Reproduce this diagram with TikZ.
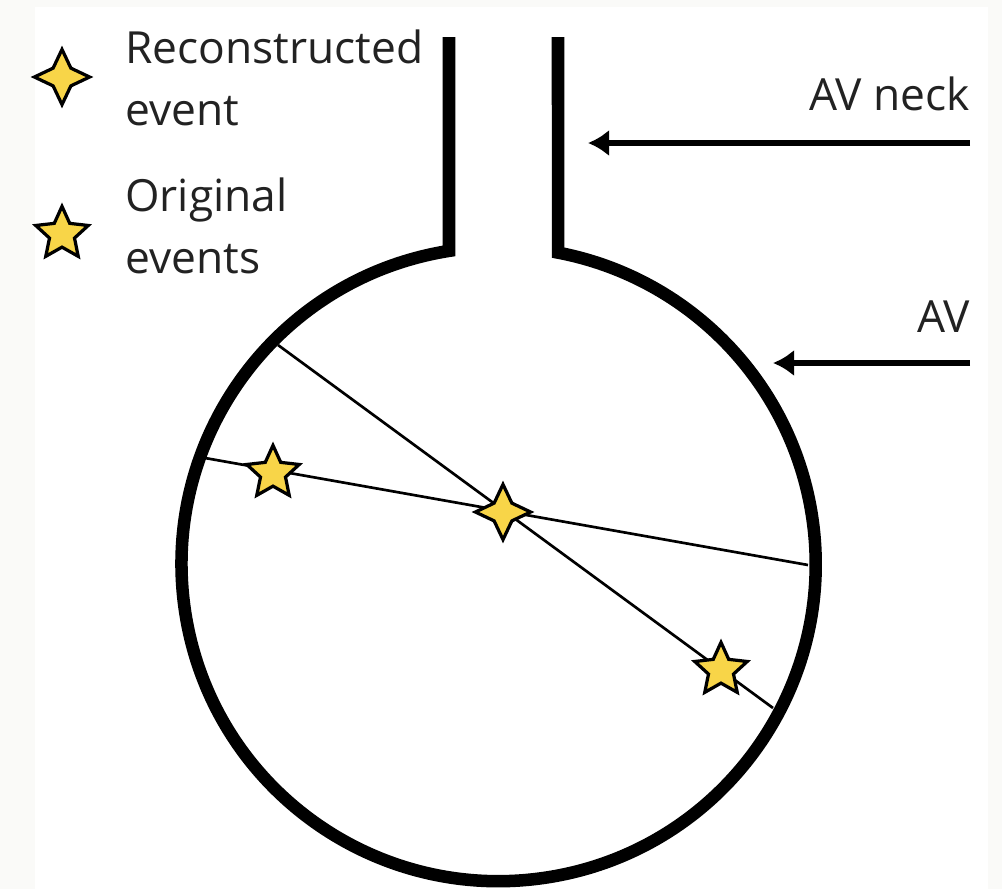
\documentclass[tikz,border=0pt]{standalone}
\usepackage{fontspec}
\setmainfont{Open Sans}
\usetikzlibrary{shapes.geometric,arrows.meta}
\definecolor{paper}{HTML}{FAFAF8}
\definecolor{evfill}{HTML}{F8D548}
\definecolor{ink}{HTML}{222222}
\tikzset{
  vessel/.style={line width=8.9pt, line join=miter, line cap=butt},
  chord/.style={line width=1.9pt},
  pointer/.style={line width=3.6pt, -{Latex[length=15pt,width=19pt]}},
  evstar/.style={star, draw=black, fill=evfill, line width=2.3pt, inner sep=0pt},
  recostar/.style={evstar, star points=4, star point ratio=2.2, minimum size=1.38cm},
  origstar/.style={evstar, star points=5, star point ratio=2.1, minimum size=1.38cm},
  labeltext/.style={text=ink, inner sep=0pt, align=left,
    font=\fontsize{31.5}{44}\selectfont}
}
\begin{document}
\begin{tikzpicture}[x=0.025cm, y=-0.025cm]
  % page and white panel
  \fill[paper] (0,0) rectangle (1002,889);
  \fill[white] (35,7) rectangle (988,889);
  \useasboundingbox (0,0) rectangle (1002,889);

  % acrylic vessel: neck walls and spherical body
  \draw[vessel] (449,37) -- (449,250.9)
    arc[start angle=99, end angle=439.2, radius=7.925cm] -- (558,37);

  % event chords
  \coordinate (c1a) at (278,345);
  \coordinate (c1b) at (773,708);
  \coordinate (c2a) at (205,458);
  \coordinate (c2b) at (808,565);
  \draw[chord] (c1a) -- (c1b);
  \draw[chord] (c2a) -- (c2b);

  % events
  \node[origstar] (orig1) at (273,473) {};
  \node[origstar] (orig2) at (721,670) {};
  \node[recostar] (reco) at (503,512) {};

  % legend (base anchor sits on the last line)
  \node[recostar] (legreco) at (62,77) {};
  \node[origstar] (legorig) at (62,234) {};
  \node[labeltext, anchor=base west] (legrecotxt) at (125,125) {Reconstructed\\event};
  \node[labeltext, anchor=base west] (legorigtxt) at (125,273) {Original\\events};

  % labels with pointers
  \node[labeltext, anchor=base east] (necklbl) at (970,110) {AV neck};
  \node[labeltext, anchor=base east] (avlbl) at (970,332) {AV};
  \coordinate (neckfrom) at (970,143);
  \coordinate (necktip) at (588,143);
  \coordinate (avfrom) at (970,363);
  \coordinate (avtip) at (773,363);
  \draw[pointer] (neckfrom) -- (necktip);
  \draw[pointer] (avfrom) -- (avtip);
\end{tikzpicture}
\end{document}
